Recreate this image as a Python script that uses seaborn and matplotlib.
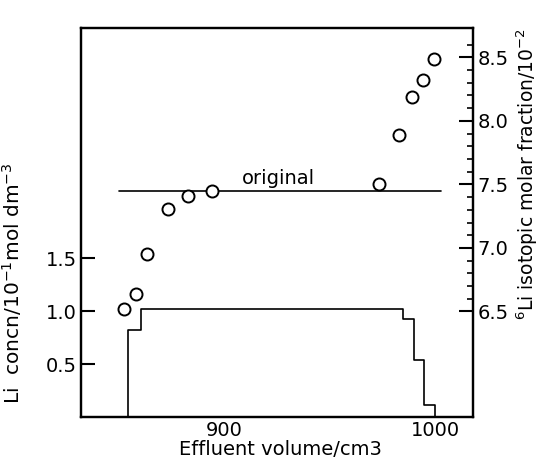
import numpy as np
import seaborn as sns
import matplotlib.pyplot as plt

# Li concentration profile (step), left axis
conc_volume = [850, 854.5, 860.5, 985, 990, 995, 1000]
conc_value = [0, 0.82, 1.02, 0.92, 0.54, 0.11, 0]

# 6Li isotopic molar fraction, right axis
frac_volume = [852.6, 858.3, 863.5, 873.6, 883.1, 894.2, 973.6, 983.1, 988.9, 994.5, 999.5]
frac_value = [6.52, 6.64, 6.95, 7.31, 7.41, 7.45, 7.50, 7.89, 8.19, 8.32, 8.49]

# original fraction
orig_volume = [850, 1003]
orig_level = 7.45

sns.set_style("white", {"text.color": "black", "axes.labelcolor": "black",
                        "xtick.color": "black", "ytick.color": "black"})
plt.rcParams["font.family"] = ["DejaVu Sans"]

fig = plt.figure(figsize=(5.39, 4.62), dpi=100)
ax = fig.add_axes([81 / 539, 1 - 417 / 462, 392 / 539, 389 / 462])
ax2 = ax.twinx()

sns.lineplot(x=conc_volume, y=conc_value, drawstyle="steps-post", color="black",
             linewidth=1.2, ax=ax, sort=False)
sns.lineplot(x=orig_volume, y=[orig_level] * len(orig_volume), color="black",
             linewidth=1.2, ax=ax2)
sns.scatterplot(x=frac_volume, y=frac_value, marker="o", s=75, facecolor="white",
                edgecolor="black", linewidth=1.4, ax=ax2, zorder=3)
ax2.text(926, orig_level + 0.02, "original", ha="center", va="bottom", fontsize=14)

ax.set_xlim(832.2, 1018)
ax.set_ylim(0, 3.67)
ax2.set_ylim(5.67, 8.73)

ax.set_xticks([850, 900, 950, 1000])
ax.set_xticklabels(["", "900", "", "1000"])
ax.set_yticks([0.5, 1.0, 1.5])
ax.set_yticklabels(["0.5", "1.0", "1.5"])
ax2.set_yticks([6.5, 7.0, 7.5, 8.0, 8.5])
ax2.set_yticklabels(["6.5", "7.0", "7.5", "8.0", "8.5"])
ax2.set_yticks(np.arange(6.5, 8.65, 0.1), minor=True)

ax.tick_params(axis="both", direction="in", length=10, width=1.5, labelsize=14, pad=3)
ax2.tick_params(axis="y", which="major", direction="in", length=10, width=1.5,
                labelsize=14, pad=3)
ax2.tick_params(axis="y", which="minor", direction="in", length=4, width=1.2)
ax.tick_params(axis="y", right=False)

for a in (ax, ax2):
    for s in a.spines.values():
        s.set_linewidth(1.6)
        s.set_color("black")

ax.set_xlabel("Effluent volume/cm3", fontsize=14)
ax.xaxis.set_label_coords(0.508, -0.06)
ax.set_ylabel("Li  concn/10$^{-1}$mol dm$^{-3}$", fontsize=14.5)
ax.yaxis.set_label_coords(-0.146, 0.345)
ax2.set_ylabel("$^{6}$Li isotopic molar fraction/10$^{-2}$", fontsize=13.5)
ax2.yaxis.set_label_coords(1.105, 0.625)

fig.savefig("out.png", dpi=100)
